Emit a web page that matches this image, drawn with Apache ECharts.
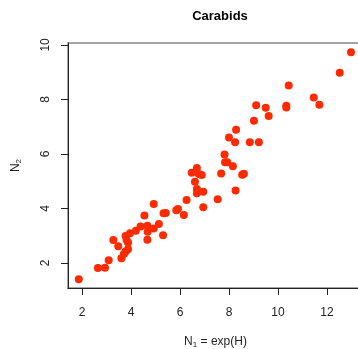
<!DOCTYPE html>
<html>
<head>
<meta charset="utf-8">
<script src="https://cdn.jsdelivr.net/npm/echarts@6/dist/echarts.min.js"></script>
<style>
  html, body { margin: 0; padding: 0; background: #fff; }
  #chart { width: 358px; height: 349px; }
</style>
</head>
<body>
<div id="chart"></div>
<script>
// N1 = exp(H) vs N2
var n1 = [1.87, 2.65, 2.94, 3.09, 3.28, 3.48, 3.61, 3.71, 3.78, 3.88,
  3.78, 3.82, 3.88, 3.96, 4.20, 4.39, 4.55, 4.67, 4.68, 4.67,
  4.93, 4.93, 5.14, 5.31, 5.33, 5.42, 5.85, 5.92, 6.16, 6.27,
  6.48, 6.69, 6.77, 6.89, 6.61, 6.69, 6.69, 6.95, 6.95, 7.54,
  7.68, 7.82, 7.84, 7.93, 8.16, 8.27, 8.54, 8.61, 8.00, 8.25,
  8.29, 8.85, 9.22, 9.02, 9.11, 9.50, 9.62, 10.34, 10.34, 10.44,
  11.46, 11.69, 12.52, 12.98]
var n2 = [1.40, 1.81, 1.82, 2.10, 2.84, 2.61, 2.17, 2.33, 2.42, 2.50,
  2.99, 2.84, 2.75, 3.09, 3.18, 3.34, 3.74, 3.36, 3.14, 2.85,
  3.26, 4.16, 3.43, 3.02, 3.82, 3.83, 3.93, 3.98, 3.76, 4.31,
  5.31, 5.48, 5.26, 5.23, 4.98, 4.71, 4.56, 4.61, 4.04, 4.34,
  5.28, 5.98, 5.69, 5.69, 5.55, 4.66, 5.24, 5.27, 6.60, 6.43,
  6.89, 6.43, 6.43, 7.22, 7.79, 7.69, 7.39, 7.77, 7.70, 8.51,
  8.07, 7.80, 8.98, 9.73]
var xTicks = [2, 4, 6, 8, 10, 12]
var yTicks = [2, 4, 6, 8, 10]

var chart = echarts.init(document.getElementById('chart'))
var pts = n1.map(function (v, i) { return [v, n2[i]] })
var font = '"Liberation Sans", Arial, sans-serif'

chart.setOption({
  animation: false,
  title: {
    text: 'Carabids',
    left: 215,
    top: 5,
    textAlign: 'center',
    textStyle: { fontFamily: font, fontSize: 13, fontWeight: 'bold', color: '#000' }
  },
  grid: {
    left: 68, top: 43, width: 295, height: 245,
    outerBoundsMode: 'none',
    show: true, borderColor: '#888', borderWidth: 1.5
  },
  xAxis: {
    type: 'value',
    min: 1.43, max: 13.47,
    name: '{a|N}{s|1}{a| = exp(H)}',
    nameLocation: 'middle',
    nameGap: 47,
    nameTextStyle: {
      rich: {
        a: { fontFamily: font, fontSize: 12, color: '#222' },
        s: { fontFamily: font, fontSize: 8, color: '#222', verticalAlign: 'bottom', padding: [6, 0, 0, 0] }
      }
    },
    axisLine: { show: true, lineStyle: { color: '#222', width: 1 } },
    axisTick: { show: true, inside: false, length: 7, customValues: xTicks, lineStyle: { color: '#222' } },
    axisLabel: { customValues: xTicks, margin: 19, fontFamily: font, fontSize: 12, color: '#222' },
    splitLine: { show: false }
  },
  yAxis: {
    type: 'value',
    min: 1.08, max: 10.07,
    name: '{a|N}{s|2}',
    nameLocation: 'middle',
    nameGap: 45,
    nameRotate: 90,
    nameTextStyle: {
      rich: {
        a: { fontFamily: font, fontSize: 12, color: '#222' },
        s: { fontFamily: font, fontSize: 8, color: '#222', verticalAlign: 'bottom', padding: [6, 0, 0, 0] }
      }
    },
    axisLine: { show: true, lineStyle: { color: '#222', width: 1 } },
    axisTick: { show: true, inside: false, length: 7, customValues: yTicks, lineStyle: { color: '#222' } },
    axisLabel: { customValues: yTicks, rotate: 90, margin: 16, fontFamily: font, fontSize: 12, color: '#222' },
    splitLine: { show: false }
  },
  series: [{
    type: 'scatter',
    data: pts,
    symbol: 'circle',
    symbolSize: 8,
    itemStyle: { color: '#ff2a00', opacity: 1 }
  }]
})
</script>
</body>
</html>
